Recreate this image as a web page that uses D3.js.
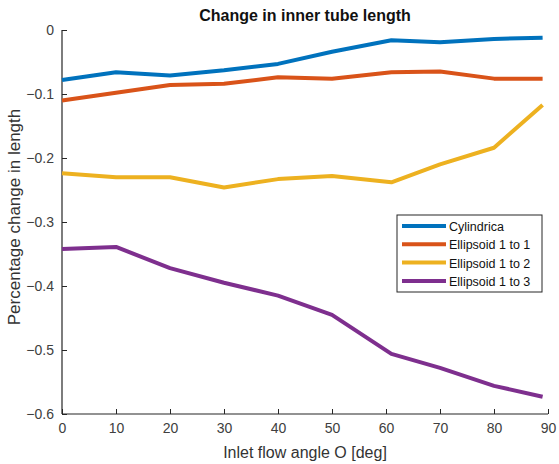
<!DOCTYPE html>
<html>
<head>
<meta charset="utf-8">
<script src="https://cdn.jsdelivr.net/npm/d3@7"></script>
<style>
  body { margin: 0; background: #fff; }
  text { font-family: "Liberation Sans", Arial, sans-serif; }
</style>
</head>
<body>
<div id="chart"></div>
<script>
//// data
var angles = [0, 10, 20, 30, 40, 50, 61, 70, 80, 89];
var cylindrica  = [-0.078, -0.066, -0.071, -0.063, -0.053, -0.034, -0.016, -0.019, -0.014, -0.012];
var ellipsoid11 = [-0.110, -0.098, -0.086, -0.084, -0.074, -0.076, -0.066, -0.065, -0.076, -0.076];
var ellipsoid12 = [-0.224, -0.230, -0.230, -0.246, -0.233, -0.228, -0.238, -0.210, -0.184, -0.117];
var ellipsoid13 = [-0.342, -0.339, -0.372, -0.395, -0.415, -0.445, -0.506, -0.528, -0.556, -0.573];
var seriesNames = ["Cylindrica", "Ellipsoid 1 to 1", "Ellipsoid 1 to 2", "Ellipsoid 1 to 3"];
var xTicks = [0, 10, 20, 30, 40, 50, 60, 70, 80, 90];
var yTicks = [0, -0.1, -0.2, -0.3, -0.4, -0.5, -0.6];

var colors = ["#0072BD", "#D95319", "#EDB120", "#7E2F8E"];
var allSeries = [cylindrica, ellipsoid11, ellipsoid12, ellipsoid13];

//// chart
var margin = {top: 30, right: 11, bottom: 50, left: 62},
    width = 559 - margin.left - margin.right,
    height = 464 - margin.top - margin.bottom;

var svg = d3.select("#chart")
  .append("svg")
    .attr("width", 559)
    .attr("height", 464)
  .append("g")
    .attr("transform", "translate(" + margin.left + "," + margin.top + ")");

var x = d3.scaleLinear().domain([0, 90]).range([0, 486]);
var y = d3.scaleLinear().domain([-0.6, 0]).range([384, 0]);

// x axis (ticks point inward like matlab)
var xAxis = svg.append("g")
  .attr("transform", "translate(0,384)")
  .call(d3.axisBottom(x).tickValues(xTicks).tickSize(-5).tickPadding(9).tickFormat(d3.format("d")));

// y axis
var yAxis = svg.append("g")
  .call(d3.axisLeft(y).tickValues(yTicks).tickSize(-5).tickPadding(8)
    .tickFormat(function(d) { return d === 0 ? "0" : d3.format(".1f")(d); }));

[xAxis, yAxis].forEach(function(a) {
  a.selectAll("path").attr("stroke", "#262626").attr("stroke-width", 1.2);
  a.selectAll("line").attr("stroke", "#262626");
  a.selectAll("text").attr("fill", "#404040").style("font-size", "14px")
    .style("font-family", "'Liberation Sans', Arial, sans-serif");
});
xAxis.select(".domain").attr("d", "M0,0H486");
yAxis.select(".domain").attr("d", "M0,384V0");

//// lines
var line = d3.line()
  .x(function(d, i) { return x(angles[i]); })
  .y(function(d) { return y(d); });

allSeries.forEach(function(s, k) {
  svg.append("path")
    .datum(s)
    .attr("fill", "none")
    .attr("stroke", colors[k])
    .attr("stroke-width", 4)
    .attr("stroke-linejoin", "round")
    .attr("d", line);
});

//// title & labels
svg.append("text")
  .attr("x", 243).attr("y", -9)
  .attr("text-anchor", "middle")
  .style("font-size", "16px").style("font-weight", "bold")
  .attr("fill", "#111")
  .text("Change in inner tube length");

svg.append("text")
  .attr("x", 243).attr("y", 428)
  .attr("text-anchor", "middle")
  .style("font-size", "16px")
  .attr("fill", "#333")
  .text("Inlet flow angle O [deg]");

svg.append("text")
  .attr("transform", "translate(-42," + 187 + ") rotate(-90)")
  .attr("text-anchor", "middle")
  .style("font-size", "17px")
  .attr("fill", "#333")
  .text("Percentage change in length");

//// legend
var legend = svg.append("g").attr("transform", "translate(335,185)");
legend.append("rect")
  .attr("width", 145).attr("height", 77)
  .attr("fill", "#fff").attr("stroke", "#262626").attr("stroke-width", 1);

seriesNames.forEach(function(name, k) {
  var g = legend.append("g").attr("transform", "translate(0," + (11 + k * 18.3) + ")");
  g.append("line")
    .attr("x1", 5).attr("x2", 49)
    .attr("stroke", colors[k]).attr("stroke-width", 4);
  g.append("text")
    .attr("x", 52).attr("y", 5)
    .style("font-size", "12.5px")
    .attr("fill", "#111")
    .text(name);
});
</script>
</body>
</html>
